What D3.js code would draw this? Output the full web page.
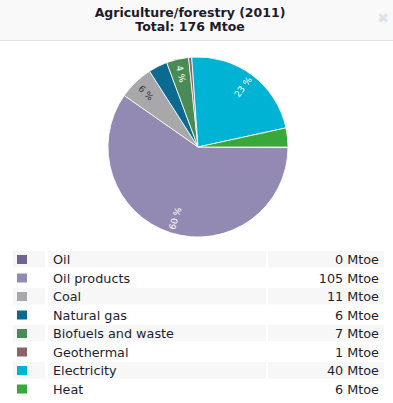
<!DOCTYPE html>
<html><head><meta charset="utf-8">
<script src="https://cdn.jsdelivr.net/npm/d3@7"></script>
<style>
html,body{margin:0;padding:0;background:#fff;}
svg{display:block;font-family:"DejaVu Sans",Verdana,sans-serif;}
</style></head>
<body>
<svg id="c" width="393" height="403"></svg>
<script>
const titleLines = ["Agriculture/forestry (2011)", "Total: 176 Mtoe"];
const categories = ["Oil","Oil products","Coal","Natural gas","Biofuels and waste","Geothermal","Electricity","Heat"];
const values = [0.2,105,11,6,7,1,40,6];
const valueLabels = ["0 Mtoe","105 Mtoe","11 Mtoe","6 Mtoe","7 Mtoe","1 Mtoe","40 Mtoe","6 Mtoe"];
const colors = ["#6e6591","#928ab3","#a8a8aa","#0a6a8f","#4a8a55","#8d6168","#00b2d3","#38a83a"];
const labelColors = ["#fff","#fff","#333","#fff","#fff","#fff","#fff","#fff"];

const svg = d3.select("#c");
// header
svg.append("rect").attr("x",0).attr("y",0).attr("width",393).attr("height",40).attr("fill","#f9f9f9");
svg.append("line").attr("x1",0).attr("x2",393).attr("y1",40.5).attr("y2",40.5).attr("stroke","#e2e2e2");
svg.selectAll("text.title").data(titleLines).join("text").attr("class","title")
  .attr("x",190).attr("y",(d,i)=>17+i*14).attr("text-anchor","middle")
  .attr("font-weight","bold").attr("font-size",12.5).attr("fill","#1b1b2b").text(d=>d);
svg.append("text").attr("x",383).attr("y",23).attr("text-anchor","middle").attr("font-size",14)
  .attr("font-weight","bold").attr("fill","#dde3ea").text("✖");

// pie
const cx=198, cy=147, r=90;
const total = d3.sum(values);
const pie = d3.pie().sort(null).value(d=>d)(values);
const arc = d3.arc().innerRadius(0).outerRadius(r);
const g = svg.append("g").attr("transform",`translate(${cx},${cy})`);
g.selectAll("path").data(pie).join("path").attr("d",arc)
  .attr("transform","rotate(90)")
  .attr("fill",(d,i)=>colors[i]).attr("stroke","#fff").attr("stroke-width",0.8);
const lab = pie.filter(d=>d.value/total>=0.035);
g.selectAll("text").data(lab).join("text")
  .attr("transform",d=>{
    const a=((d.startAngle+d.endAngle)/2*180/Math.PI+90)%360;
    const rad=a*Math.PI/180, lr=75;
    const x=Math.sin(rad)*lr, y=-Math.cos(rad)*lr;
    const rot = a<180 ? a-90 : a-270;
    return `translate(${x},${y}) rotate(${rot})`;
  })
  .attr("text-anchor","middle").attr("dy","0.35em").attr("font-size",9)
  .attr("fill",d=>labelColors[d.index])
  .text(d=>Math.round(d.value/total*100)+" %");

// legend
const rowY = d3.scaleBand().domain(categories).range([250,398]).paddingInner(0);
const rows = svg.selectAll("g.row").data(categories).join("g").attr("class","row")
  .attr("transform",d=>`translate(0,${rowY(d)})`);
rows.each(function(d,i){
  const s=d3.select(this);
  const h=rowY.bandwidth()-2;
  if(i%2===0){
    s.append("rect").attr("x",13).attr("y",1).attr("width",32).attr("height",h).attr("fill","#f7f7f7");
    s.append("rect").attr("x",48).attr("y",1).attr("width",218).attr("height",h).attr("fill","#f7f7f7");
    s.append("rect").attr("x",268).attr("y",1).attr("width",116).attr("height",h).attr("fill","#f7f7f7");
  }
  s.append("rect").attr("x",17).attr("y",5).attr("width",10).attr("height",9).attr("fill",colors[i]);
  s.append("text").attr("x",53).attr("y",14).attr("font-size",12.8).attr("fill","#1e1e30").text(d);
  s.append("text").attr("x",379).attr("y",14).attr("text-anchor","end").attr("font-size",12.8).attr("fill","#1e1e30").text(valueLabels[i]);
});
</script>
</body></html>
